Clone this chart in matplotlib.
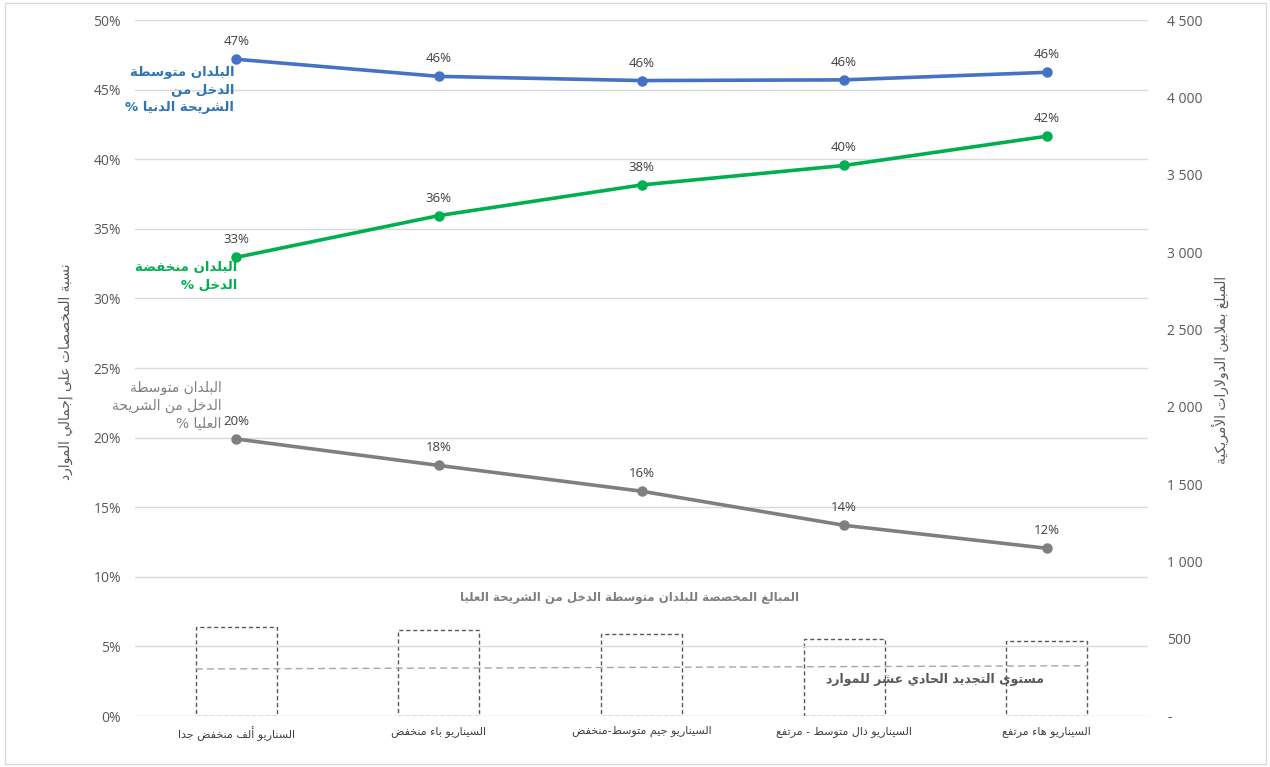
import matplotlib
matplotlib.use("Agg")
import matplotlib.pyplot as plt
from matplotlib.patches import Rectangle
from matplotlib.ticker import FuncFormatter, MultipleLocator
from matplotlib import font_manager
import numpy as np

plt.rcParams['font.family'] = ['Open Sans', 'DejaVu Sans']

# ---------------- data ----------------
categories = ["السناريو ألف منخفض جدا", "السيناريو باء منخفض", "السيناريو جيم متوسط-منخفض",
              "السيناريو دال متوسط - مرتفع", "السيناريو هاء مرتفع"]
lmic_share = [0.4718, 0.4595, 0.4565, 0.4570, 0.4624]   # blue
lic_share = [0.3295, 0.3595, 0.3815, 0.3955, 0.4165]    # green
umic_share = [0.1990, 0.1800, 0.1615, 0.1370, 0.1205]   # gray
umic_amount = [577, 556, 530, 498, 487]                 # bars, right axis
renewal_level = [304, 325]                              # dashed line ends
lmic_label = ["البلدان متوسطة", "الدخل من", "الشريحة الدنيا %"]
lic_label = ["البلدان منخفضة", "الدخل %"]
umic_label = ["البلدان متوسطة", "الدخل من الشريحة", "العليا %"]
bars_title = "المبالغ المخصصة للبلدان متوسطة الدخل من الشريحة العليا"
renewal_title = "مستوى التجديد الحادي عشر للموارد"
left_ylabel = "نسبة المخصصات على إجمالي الموارد"
right_ylabel = "المبلغ بملايين الدولارات الأمريكية"

# ---------------- simple Arabic shaping ----------------
_DUAL = {'ئ': 0xFE89, 'ب': 0xFE8F, 'ت': 0xFE95, 'ث': 0xFE99, 'ج': 0xFE9D, 'ح': 0xFEA1,
         'خ': 0xFEA5, 'س': 0xFEB1, 'ش': 0xFEB5, 'ص': 0xFEB9, 'ض': 0xFEBD, 'ط': 0xFEC1,
         'ظ': 0xFEC5, 'ع': 0xFEC9, 'غ': 0xFECD, 'ف': 0xFED1, 'ق': 0xFED5, 'ك': 0xFED9,
         'ل': 0xFEDD, 'م': 0xFEE1, 'ن': 0xFEE5, 'ه': 0xFEE9, 'ي': 0xFEF1}
_RIGHT = {'آ': 0xFE81, 'أ': 0xFE83, 'ؤ': 0xFE85, 'إ': 0xFE87, 'ا': 0xFE8D, 'ة': 0xFE93,
          'د': 0xFEA9, 'ذ': 0xFEAB, 'ر': 0xFEAD, 'ز': 0xFEAF, 'و': 0xFEED, 'ى': 0xFEEF}
_NONE = {'ء': 0xFE80}
_LAMALEF = {'آ': 0xFEF5, 'أ': 0xFEF7, 'إ': 0xFEF9, 'ا': 0xFEFB}


def _shape_line(text):
    out = []
    n = len(text)
    i = 0
    while i < n:
        c = text[i]
        prev = text[i - 1] if i > 0 else ''
        nxt = text[i + 1] if i + 1 < n else ''
        cp = prev in _DUAL
        if c == 'ل' and nxt in _LAMALEF:
            out.append(chr(_LAMALEF[nxt] + (1 if cp else 0)))
            i += 2
            continue
        if c in _DUAL:
            cn = nxt in _DUAL or nxt in _RIGHT
            off = 3 if (cp and cn) else 1 if cp else 2 if cn else 0
            out.append(chr(_DUAL[c] + off))
        elif c in _RIGHT:
            out.append(chr(_RIGHT[c] + (1 if cp else 0)))
        elif c in _NONE:
            out.append(chr(_NONE[c]))
        else:
            out.append(c)
        i += 1
    return ''.join(reversed(out))


def ar(text):
    if isinstance(text, (list, tuple)):
        return "\n".join(_shape_line(t) for t in text)
    return "\n".join(_shape_line(t) for t in text.split("\n"))


_names = {f.name for f in font_manager.fontManager.ttflist}
AR = ['DejaVu Sans Condensed'] if 'DejaVu Sans Condensed' in _names else ['DejaVu Sans']

# ---------------- figure ----------------
W, H = 1270, 767
fig = plt.figure(figsize=(W / 100, H / 100), dpi=100)
fig.patches.append(Rectangle((5 / W, 3 / H), 1261 / W, 761 / H, transform=fig.transFigure,
                             fill=False, edgecolor='#D9D9D9', linewidth=1))

ax = fig.add_axes([135 / W, 1 - 716 / H, (1148 - 135) / W, (716 - 20) / H])
ax2 = ax.twinx()
x = np.arange(len(categories))

ax.set_xlim(-0.5, len(categories) - 0.5)
ax.set_ylim(0, 0.5)
ax2.set_ylim(0, 4500)
ax.yaxis.set_major_locator(MultipleLocator(0.05))
ax2.yaxis.set_major_locator(MultipleLocator(500))
ax.yaxis.set_major_formatter(FuncFormatter(lambda v, p: f"{v * 100:.0f}%"))
ax2.yaxis.set_major_formatter(FuncFormatter(
    lambda v, p: "-" if abs(v) < 1e-9 else f"{int(round(v)):,}".replace(",", " ")))

for a in (ax, ax2):
    for s in a.spines.values():
        s.set_visible(False)
    a.tick_params(length=0, labelsize=10, colors='#595959')
ax.tick_params(axis='y', pad=10)
ax2.tick_params(axis='y', pad=14)
ax.grid(axis='y', color='#D9D9D9', linewidth=1)
ax.set_axisbelow(True)
ax.set_xticks(x)
ax.set_xticklabels([ar(c) for c in categories], fontsize=8, color='#404040', family=AR)
ax.tick_params(axis='x', pad=7)

# bars (right axis)
bw = 0.4
ax2.bar(x, umic_amount, width=bw, fill=False, edgecolor='#595959', linestyle=(0, (3, 2)),
        linewidth=1.0, zorder=2)
ax2.plot([x[0] - bw / 2, x[-1] + bw / 2], renewal_level, color='#A6A6A6',
         linestyle=(0, (5, 3)), linewidth=1.0, zorder=2)

# lines (left axis)
ax.set_zorder(ax2.get_zorder() + 1)
ax.patch.set_visible(False)
series = [(lmic_share, '#4472C4'), (lic_share, '#00B050'), (umic_share, '#7F7F7F')]
for vals, col in series:
    ax.plot(x, vals, color=col, linewidth=2.6, marker='o', markersize=6.5, zorder=3)
    for xi, v in zip(x, vals):
        ax.annotate(f"{v * 100:.0f}%", (xi, v), xytext=(0, 11), textcoords='offset pixels',
                    ha='center', va='bottom', fontsize=9.5, color='#404040')

# series labels
ax.annotate(ar(lmic_label), (x[0], lmic_share[0]), xytext=(-2, -7), textcoords='offset pixels',
            ha='right', va='top', multialignment='right', fontsize=9.5, fontweight='bold',
            color='#2E75B6', family=AR, linespacing=1.45)
ax.annotate(ar(lic_label), (x[0], lic_share[0]), xytext=(1, -4), textcoords='offset pixels',
            ha='right', va='top', multialignment='right', fontsize=9.5, fontweight='bold',
            color='#00B050', family=AR, linespacing=1.45)
ax.annotate(ar(umic_label), (x[0], umic_share[0]), xytext=(-15, 8), textcoords='offset pixels',
            ha='right', va='bottom', multialignment='right', fontsize=10,
            color='#7F7F7F', family=AR, linespacing=1.35)

# other texts
fig.text(630 / W, 1 - 597 / H, ar(bars_title), ha='center', va='center', fontsize=8.5,
         color='#7F7F7F', fontweight='bold', family=AR)
fig.text(935 / W, 1 - 680 / H, ar(renewal_title), ha='center', va='center', fontsize=9,
         color='#595959', fontweight='bold', family=AR)
fig.text(66 / W, 1 - 372 / H, ar(left_ylabel), ha='center', va='center', rotation=90,
         fontsize=10, color='#595959', family=AR)
fig.text(1220 / W, 1 - 370 / H, ar(right_ylabel), ha='center', va='center', rotation=90,
         fontsize=10, color='#595959', family=AR)

fig.savefig("out.png", dpi=100)
